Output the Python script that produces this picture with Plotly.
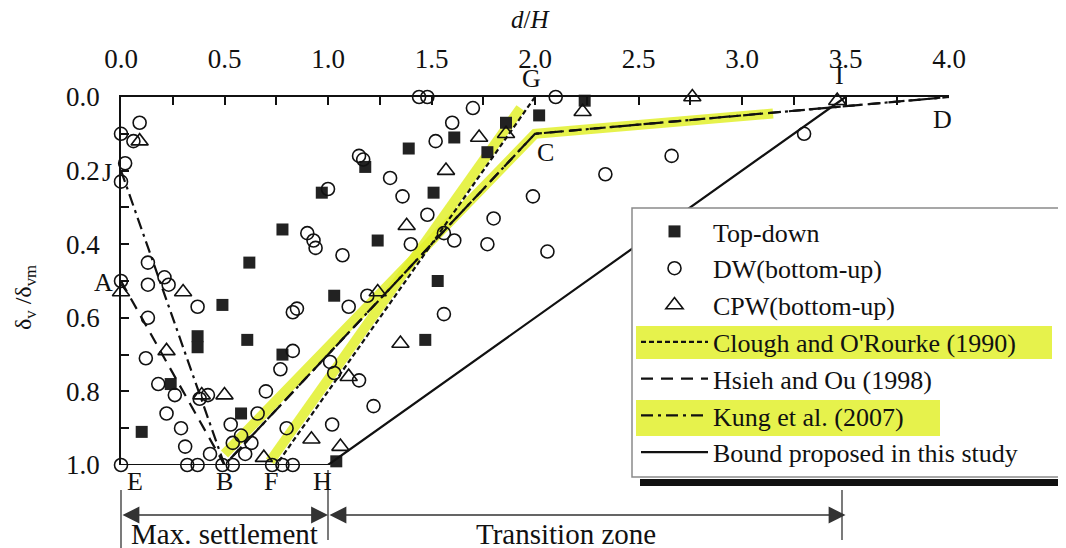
import plotly.graph_objects as go

# ---- data: d/H vs δv/δvm ----
TD_X = [0.97, 0.78, 0.62, 0.49, 0.37, 0.37, 0.61, 0.78, 0.24, 0.58, 0.10, 1.04,
        1.47, 1.53, 1.03, 1.24, 1.51, 1.18, 1.39, 1.61, 1.77, 1.86, 2.02, 2.24]
TD_Y = [0.26, 0.36, 0.45, 0.565, 0.65, 0.68, 0.66, 0.70, 0.78, 0.86, 0.91, 0.99,
        0.66, 0.50, 0.54, 0.39, 0.26, 0.19, 0.14, 0.11, 0.15, 0.07, 0.05, 0.01]

DW_X = [0.09, 0.00, 0.06, 0.02, 0.00, 0.13, 0.21, 0.23, 0.00, 0.13, 0.37, 0.13,
        0.12, 0.18, 0.26, 0.22, 0.38, 0.42, 0.29, 0.31, 0.53, 0.58, 0.63, 0.60,
        0.54, 0.43, 0.70, 0.66, 0.80, 0.83, 0.77, 0.83, 0.85, 0.90, 0.93, 0.94,
        1.00, 0.00, 0.32, 0.37, 0.49, 0.54, 0.73, 0.78, 0.83, 1.01, 1.03, 1.15,
        1.22, 1.02, 1.07, 1.19, 1.10, 1.56, 1.44, 1.48, 2.10, 1.70, 1.60, 1.52,
        1.15, 1.17, 1.30, 1.36, 2.34, 1.99, 1.48, 1.80, 1.40, 1.61, 1.56, 1.77,
        2.06, 2.66, 3.30]
DW_Y = [0.07, 0.10, 0.12, 0.18, 0.23, 0.45, 0.49, 0.51, 0.50, 0.51, 0.57, 0.60,
        0.71, 0.78, 0.81, 0.86, 0.82, 0.81, 0.90, 0.95, 0.89, 0.92, 0.94, 0.97,
        0.94, 0.97, 0.80, 0.86, 0.90, 0.69, 0.74, 0.585, 0.575, 0.37, 0.39, 0.41,
        0.25, 1.00, 1.00, 1.00, 1.00, 1.00, 1.00, 1.00, 1.00, 0.72, 0.75, 0.77,
        0.84, 0.89, 0.43, 0.54, 0.57, 0.59, 0.00, 0.00, 0.00, 0.03, 0.07, 0.12,
        0.16, 0.17, 0.22, 0.27, 0.21, 0.27, 0.32, 0.33, 0.40, 0.39, 0.37, 0.40,
        0.42, 0.16, 0.10]

CPW_X = [0.09, 0.00, 0.30, 0.22, 0.39, 0.50, 0.69, 0.92, 1.06, 1.10, 1.35, 1.24,
         1.38, 1.57, 1.73, 1.86, 2.23, 2.76, 3.46]
CPW_Y = [0.12, 0.53, 0.53, 0.69, 0.81, 0.81, 0.98, 0.93, 0.95, 0.76, 0.67, 0.53,
         0.35, 0.20, 0.11, 0.10, 0.04, 0.00, 0.01]

CLOUGH_X = [0.0, 0.75, 2.0]
CLOUGH_Y = [1.0, 1.0, 0.0]
HSIEH_X = [0.0, 0.5, 2.0, 4.0]
HSIEH_Y = [0.5, 1.0, 0.1, 0.0]
KUNG_X = [0.0, 0.5, 2.0, 4.0]
KUNG_Y = [0.2, 1.0, 0.1, 0.0]
BOUND_X = [0.0, 1.0, 3.5]
BOUND_Y = [1.0, 1.0, 0.0]

# highlighter strokes someone drew over the scan
HL_CLOUGH_X = [0.72, 1.93]
HL_CLOUGH_Y = [0.99, 0.03]
HL_KUNG_X = [0.50, 2.0, 3.15]
HL_KUNG_Y = [0.97, 0.10, 0.045]

X_TICKS = [0.0, 0.5, 1.0, 1.5, 2.0, 2.5, 3.0, 3.5, 4.0]
Y_TICKS = [0.0, 0.2, 0.4, 0.6, 0.8, 1.0]

FONT = "Liberation Serif"
INK = "#111111"
HILITE = "rgba(226,240,45,0.85)"

# page body has an 8px margin; plot area on screen is x 121..949, y 97..465
OFF = 8
W, H = 1058, 540
L, T = 121 - OFF, 97 - OFF
PW, PH = 828, 368
R, B = W - L - PW, H - T - PH


def xp(px):
    return (px - OFF - L) / PW


def yp(py):
    return (H - B - (py - OFF)) / PH


fig = go.Figure()

fig.add_trace(go.Scatter(x=HL_CLOUGH_X, y=HL_CLOUGH_Y, mode="lines",
                         line=dict(color=HILITE, width=10), showlegend=False,
                         hoverinfo="skip", cliponaxis=False))
fig.add_trace(go.Scatter(x=HL_KUNG_X, y=HL_KUNG_Y, mode="lines",
                         line=dict(color=HILITE, width=10), showlegend=False,
                         hoverinfo="skip", cliponaxis=False))

fig.add_trace(go.Scatter(x=TD_X, y=TD_Y, mode="markers", name="Top-down",
                         marker=dict(symbol="square", size=12, color="#222222",
                                     line=dict(width=0)), cliponaxis=False))
fig.add_trace(go.Scatter(x=DW_X, y=DW_Y, mode="markers", name="DW(bottom-up)",
                         marker=dict(symbol="circle-open", size=13, color=INK,
                                     line=dict(width=1.6)), cliponaxis=False))
fig.add_trace(go.Scatter(x=CPW_X, y=CPW_Y, mode="markers", name="CPW(bottom-up)",
                         marker=dict(symbol="triangle-up-open", size=15, color=INK,
                                     line=dict(width=1.6)), cliponaxis=False))

fig.add_trace(go.Scatter(x=CLOUGH_X, y=CLOUGH_Y, mode="lines",
                         name="Clough and O'Rourke (1990)",
                         line=dict(color=INK, width=2.2, dash="5px,3px"), cliponaxis=False))
fig.add_trace(go.Scatter(x=HSIEH_X, y=HSIEH_Y, mode="lines",
                         name="Hsieh and Ou (1998)",
                         line=dict(color=INK, width=2.2, dash="12px,8px"), cliponaxis=False))
fig.add_trace(go.Scatter(x=KUNG_X, y=KUNG_Y, mode="lines",
                         name="Kung et al. (2007)",
                         line=dict(color=INK, width=2.2, dash="12px,5px,3px,5px"), cliponaxis=False))
fig.add_trace(go.Scatter(x=BOUND_X, y=BOUND_Y, mode="lines",
                         name="Bound proposed in this study",
                         line=dict(color=INK, width=2.2), cliponaxis=False))

shapes = [
    # legend box, its heavy shadow and the highlighter marks
    dict(type="rect", xref="paper", yref="paper", x0=xp(632), x1=xp(1090),
         y0=yp(477), y1=yp(208), fillcolor="white", line=dict(color="#8a8a8a", width=1.5),
         layer="above"),
    dict(type="rect", xref="paper", yref="paper", x0=xp(640), x1=xp(1090),
         y0=yp(486), y1=yp(479), fillcolor="#111111", line=dict(width=0), layer="above"),
    dict(type="rect", xref="paper", yref="paper", x0=xp(636), x1=xp(1052),
         y0=yp(359), y1=yp(326), fillcolor=HILITE, line=dict(width=0), layer="above"),
    dict(type="rect", xref="paper", yref="paper", x0=xp(636), x1=xp(940),
         y0=yp(436), y1=yp(400), fillcolor=HILITE, line=dict(width=0), layer="above"),
    # dimension lines under the plot
    dict(type="line", xref="paper", yref="paper", x0=0, x1=0, y0=yp(550), y1=yp(490),
         line=dict(color="#333333", width=1.3)),
    dict(type="line", xref="paper", yref="paper", x0=xp(328), x1=xp(328), y0=yp(540),
         y1=yp(470), line=dict(color="#333333", width=1.3)),
    dict(type="line", xref="paper", yref="paper", x0=xp(842), x1=xp(842), y0=yp(540),
         y1=yp(490), line=dict(color="#333333", width=1.3)),
]

ann = []


def label(text, size=26, **kw):
    base = dict(text=text, showarrow=False, xanchor="center", yanchor="middle",
                font=dict(family=FONT, size=size, color=INK))
    base.update(kw)
    ann.append(base)


label("<i>d</i>/<i>H</i>", size=25, xref="paper", yref="paper", x=xp(530), y=yp(20))
label("δ<sub>v</sub> /δ<sub>vm</sub>", size=24, xref="paper", yref="paper",
      x=xp(25), y=yp(298), textangle=-90)
label("J", xref="paper", yref="y", x=xp(107), y=0.205)
label("A", xref="paper", yref="y", x=xp(103), y=0.505)
for t, xv in [("E", 0.07), ("B", 0.5), ("F", 0.725), ("H", 0.975)]:
    label(t, xref="x", yref="paper", x=xv, y=yp(481))
label("G", xref="x", yref="paper", x=1.985, y=yp(79))
label("I", xref="x", yref="paper", x=3.47, y=yp(76))
label("C", xref="x", yref="y", x=2.05, y=0.15)
label("D", xref="x", yref="y", x=3.97, y=0.06)
label("Max. settlement", size=29, xref="x", yref="paper", x=0.5, y=yp(534))
label("Transition zone", size=29, xref="x", yref="paper", x=2.15, y=yp(534))

for x0, x1 in [(0.0, 1.0), (1.0, 3.5)]:
    ann.append(dict(xref="x", yref="paper", x=x1, y=yp(515), axref="x", ayref="pixel",
                    ax=x0, ay=0, text="", showarrow=True, arrowside="end+start",
                    arrowhead=2, startarrowhead=2, arrowsize=2.6, startarrowsize=2.6,
                    arrowwidth=1.3, arrowcolor="#333333"))

fig.update_layout(
    width=W, height=H,
    margin=dict(l=L, r=R, t=T, b=B, autoexpand=False),
    plot_bgcolor="white",
    paper_bgcolor="white",
    font=dict(family=FONT, size=27, color=INK),
    showlegend=True,
    legend=dict(x=xp(636), y=yp(208), xanchor="left", yanchor="top",
                bgcolor="rgba(0,0,0,0)", borderwidth=0, itemwidth=67,
                font=dict(family=FONT, size=26, color=INK)),
    xaxis=dict(range=[0, 4], side="top", tickvals=X_TICKS, tickformat=".1f",
               ticks="inside", ticklen=8, tickwidth=1.5, tickcolor=INK,
               minor=dict(dtick=0.25, ticks="inside", ticklen=8, tickwidth=1.5, tickcolor=INK),
               showline=True, linecolor=INK, linewidth=1.8, showgrid=False, zeroline=False,
               ticklabelstandoff=16, tickfont=dict(family=FONT, size=27, color=INK)),
    yaxis=dict(range=[1, 0], tickvals=Y_TICKS, tickformat=".1f",
               ticks="inside", ticklen=8, tickwidth=1.5, tickcolor=INK,
               minor=dict(dtick=0.1, ticks="inside", ticklen=8, tickwidth=1.5, tickcolor=INK),
               showline=True, linecolor=INK, linewidth=1.8, showgrid=False, zeroline=False,
               ticklabelstandoff=14, tickfont=dict(family=FONT, size=27, color=INK)),
    shapes=shapes,
    annotations=ann,
)

fig.write_html("out.html")
